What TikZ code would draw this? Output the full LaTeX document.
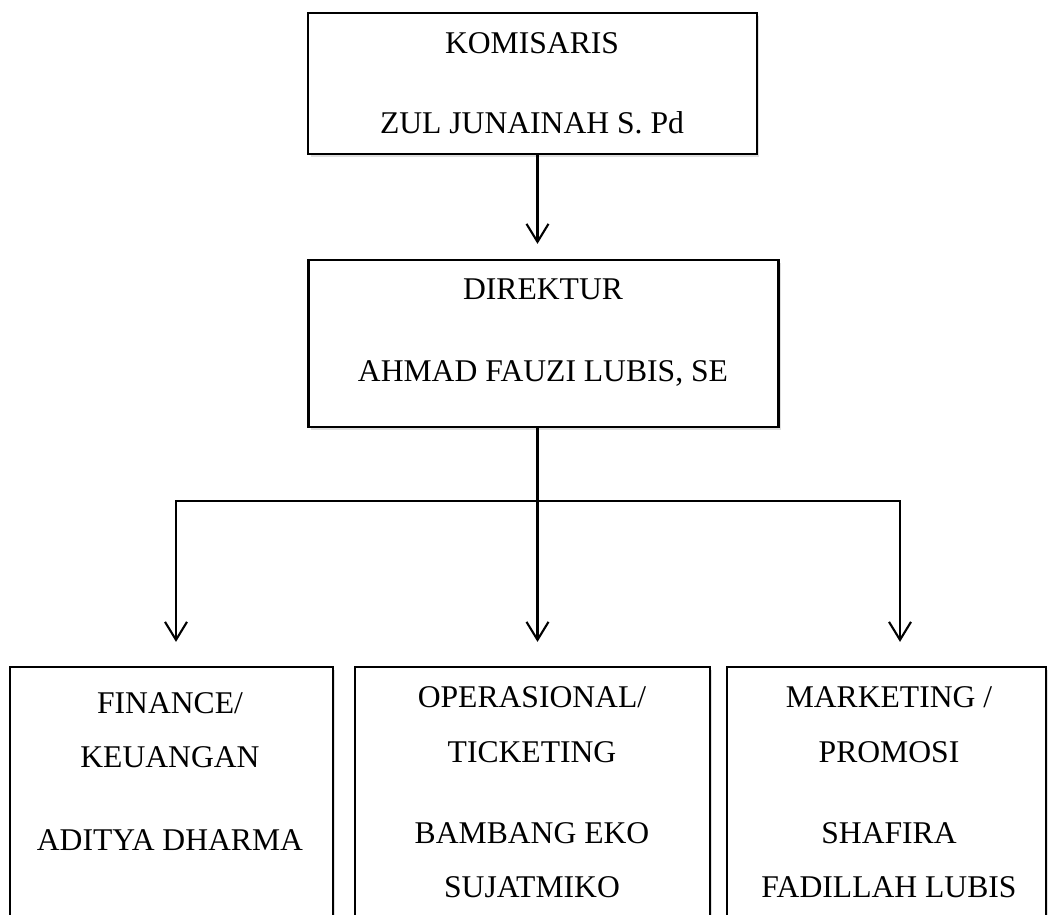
\documentclass[tikz,border=0pt]{standalone}
\usepackage{fontspec}
\setmainfont{Liberation Serif}
\usetikzlibrary{positioning}
\usetikzlibrary{arrows.meta}
\usetikzlibrary{shadows}

\begin{document}
\begin{tikzpicture}[x=0.02cm, y=-0.02cm,
    box/.style={rectangle, draw=black, line width=1.3pt, fill=white,
        drop shadow={shadow xshift=0.5mm, shadow yshift=-0.6mm, opacity=0.25}},
    txt/.style={anchor=base, inner sep=0pt, font=\fontsize{18}{22}\selectfont},
    link/.style={line width=1.2pt},
    arr/.style={link, -{Straight Barb[length=3.6mm, width=4.4mm]}}]
    \useasboundingbox (0,0) rectangle (1048,915);

    % top two levels
    \node (komisaris) [box, minimum width=8.98cm, minimum height=2.82cm] at (532.5,83.5) {};
    \node (direktur) [box, minimum width=9.4cm, minimum height=3.34cm] at (543.5,343.5) {};

    % bottom row, open at the lower edge
    \node (finance) [box, minimum width=6.46cm, minimum height=6cm] at (171.5,817) {};
    \node (operasional) [box, minimum width=7.1cm, minimum height=6cm] at (532.5,817) {};
    \node (marketing) [box, minimum width=6.38cm, minimum height=6cm] at (886.5,817) {};

    \node (komisaris title) [txt] at (532,54) {KOMISARIS};
    \node (komisaris name) [txt] at (532,134) {ZUL JUNAINAH S. Pd};
    \node (direktur title) [txt] at (543,300) {DIREKTUR};
    \node (direktur name) [txt] at (543,382) {AHMAD FAUZI LUBIS, SE};

    \node (finance title1) [txt] at (170,713) {FINANCE/};
    \node (finance title2) [txt] at (170,767) {KEUANGAN};
    \node (finance name) [txt] at (170,850) {ADITYA DHARMA};

    \node (operasional title1) [txt] at (532,707) {OPERASIONAL/};
    \node (operasional title2) [txt] at (532,762) {TICKETING};
    \node (operasional name1) [txt] at (532,843) {BAMBANG EKO};
    \node (operasional name2) [txt] at (532,897) {SUJATMIKO};

    \node (marketing title1) [txt] at (889,707) {MARKETING /};
    \node (marketing title2) [txt] at (889,762) {PROMOSI};
    \node (marketing name1) [txt] at (889,843) {SHAFIRA};
    \node (marketing name2) [txt] at (889,897) {FADILLAH LUBIS};

    % connectors
    \coordinate (stem) at (537.5,0);
    \coordinate (bus) at (537.5,501);
    \coordinate (bus left) at (176,501);
    \coordinate (bus right) at (900,501);
    \draw [arr, shorten >=3mm] (komisaris.south -| stem) -- (direktur.north -| stem);
    \draw [link] (direktur.south -| bus) -- (bus);
    \draw [arr, shorten >=4.8mm] (bus) -| (finance.north -| bus left);
    \draw [arr, shorten >=4.8mm] (bus) -- (operasional.north -| bus);
    \draw [arr, shorten >=4.8mm] (bus) -| (marketing.north -| bus right);
\end{tikzpicture}
\end{document}
